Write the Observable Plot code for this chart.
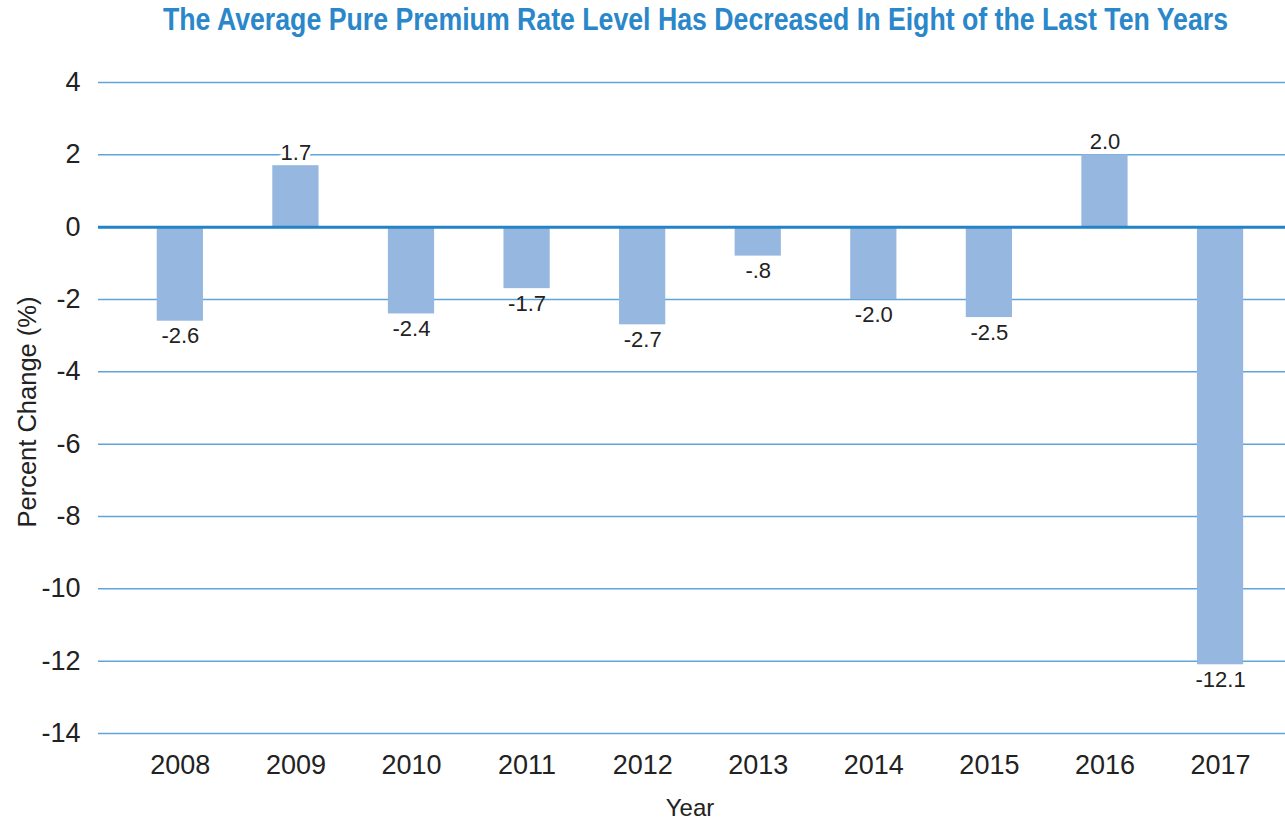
<!DOCTYPE html>
<html>
<head>
<meta charset="utf-8">
<script src="https://cdn.jsdelivr.net/npm/d3@7"></script>
<script src="https://cdn.jsdelivr.net/npm/@observablehq/plot@0.6"></script>
<style>
  html, body { margin: 0; padding: 0; background: #fff; }
  #wrap { position: relative; width: 1285px; height: 827px; overflow: hidden; }
  #title { position: absolute; top: 0px; left: 0; width: 1285px; text-align: center;
    font-family: "Liberation Sans", Arial, sans-serif; font-weight: bold;
    font-size: 31px; line-height: 40px; color: #2a87ca; white-space: nowrap; }
  #title span { display: inline-block; transform-origin: center; }
  #chart { position: absolute; top: 0; left: 0; }
</style>
</head>
<body>
<div id="wrap">
  <div id="chart"></div>
  <div id="title"><span>The Average Pure Premium Rate Level Has Decreased In Eight of the Last Ten Years</span></div>
</div>
<script>
const years = ["2008", "2009", "2010", "2011", "2012", "2013", "2014", "2015", "2016", "2017"];
const changes = [-2.6, 1.7, -2.4, -1.7, -2.7, -0.8, -2.0, -2.5, 2.0, -12.1];
const valueLabels = ["-2.6", "1.7", "-2.4", "-1.7", "-2.7", "-.8", "-2.0", "-2.5", "2.0", "-12.1"];
const yTicks = [4, 2, 0, -2, -4, -6, -8, -10, -12, -14];
const xTitle = "Year";
const yTitle = "Percent Change (%)";

const data = years.map((year, i) => ({ year, value: changes[i], label: valueLabels[i] }));
const font = "'Liberation Sans', Arial, sans-serif";

const chart = Plot.plot({
  width: 1285,
  height: 827,
  marginTop: 82,
  marginBottom: 94,
  marginLeft: 98,
  marginRight: 0,
  style: { fontFamily: font, fontSize: "24px", color: "#222", background: "#fff" },
  x: {
    domain: years,
    type: "band",
    paddingInner: 0.6,
    paddingOuter: 0.435,
    align: 0.584,
    round: false,
    label: null
  },
  y: {
    domain: [-14, 4],
    ticks: yTicks,
    label: null
  },
  marks: [
    Plot.ruleY(yTicks.filter(d => d !== 0), { stroke: "#5fa5da", strokeWidth: 1.5 }),
    Plot.barY(data, { x: "year", y: "value", fill: "#96b7df" }),
    Plot.ruleY([0], { stroke: "#2383c6", strokeWidth: 3 }),
    Plot.text(data.filter(d => d.value >= 0), {
      x: "year", y: "value", text: "label", dy: -13,
      fontSize: 22, fill: "#222", stroke: "white", strokeWidth: 8
    }),
    Plot.text(data.filter(d => d.value < 0), {
      x: "year", y: "value", text: "label", dy: 15,
      fontSize: 22, fill: "#222"
    }),
    Plot.axisY({
      ticks: yTicks, tickSize: 0, tickPadding: 18, tickFormat: d => String(d),
      fontSize: 27, label: null
    }),
    Plot.axisX({
      tickSize: 0, tickPadding: 21, fontSize: 27, label: null
    }),
    Plot.text([yTitle], {
      frameAnchor: "left", text: d => d, rotate: -90, dx: -71, dy: 4,
      textAnchor: "middle", lineAnchor: "middle",
      fontSize: 25.5, fill: "#222"
    }),
    Plot.text([xTitle], {
      frameAnchor: "bottom", text: d => d, dy: 75, dx: -2,
      lineAnchor: "middle",
      fontSize: 24, fill: "#222"
    })
  ]
});
document.getElementById("chart").appendChild(chart);

// fit title width to the reference span
const span = document.querySelector("#title span");
const w = span.getBoundingClientRect().width;
const target = 1065;
span.style.transform = `scaleX(${target / w})`;
span.parentElement.style.left = (695.5 - 642.5) + "px";
</script>
</body>
</html>
